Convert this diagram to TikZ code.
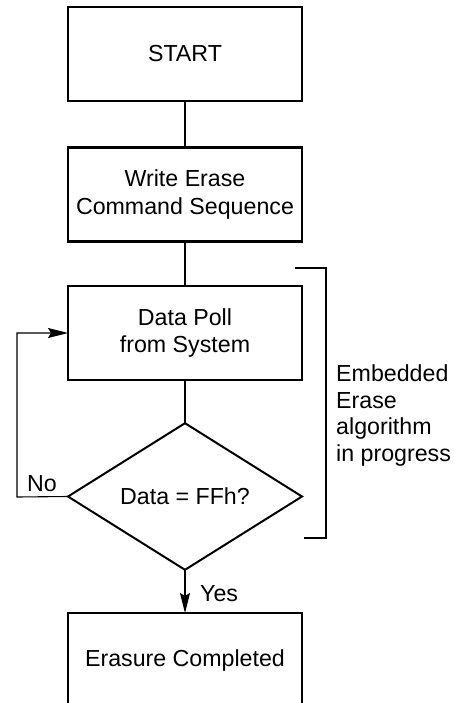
\documentclass[tikz,border=0pt]{standalone}
\usepackage{fontspec}
\setmainfont{Liberation Sans}
\usetikzlibrary{shapes.geometric,arrows.meta}
\begin{document}
\begin{tikzpicture}[x=1bp,y=-1bp,
  every node/.style={font=\fontsize{23.2bp}{27bp}\selectfont},
  box/.style={draw,line width=2.6bp,minimum width=234bp,minimum height=94bp,inner sep=0pt,outer sep=0pt,align=center},
  dec/.style={draw,diamond,line width=2bp,minimum width=234bp,minimum height=139bp,inner sep=0pt,outer sep=0pt},
  conn/.style={line width=1.3bp},
  arr/.style={conn,-{Stealth[length=20bp,width=10bp,inset=3bp]}},
  lbl/.style={inner sep=0pt}]
\useasboundingbox (0,0) rectangle (454,703);
\node[box] (start) at (185,54) {START};
\node[box] (write) at (185,194.5) {Write Erase\\Command Sequence};
\node[box] (poll) at (185,333) {Data Poll\\from System};
\node[dec] (dia) at (185,496.5) {Data = FFh?};
\node[box] (done) at (185,660) {Erasure Completed};
\draw[conn] (start) -- (write);
\draw[conn] (write) -- (poll);
\draw[conn] (poll) -- (dia);
\draw[arr] (dia.south) -- (done.north);
\coordinate (lx) at (17,497);
\draw[arr,line width=1.1bp] (dia.west) -- (lx) |- (poll.west);
\node[lbl,anchor=base west] (no) at (27,491) {No};
\node[lbl,anchor=base west] (yes) at (200,601) {Yes};
\coordinate (b1) at (295,267.5);
\coordinate (b2) at (326,267.5);
\coordinate (b3) at (326,538);
\coordinate (b4) at (304,538);
\draw[line width=2bp] (b1) -- (b2) -- (b3) -- (b4);
\node[lbl,anchor=north west,align=left,font=\fontsize{23.2bp}{26.7bp}\selectfont] (emb) at (336,364.5) {Embedded\\Erase\\algorithm\\in progress};
\end{tikzpicture}
\end{document}
